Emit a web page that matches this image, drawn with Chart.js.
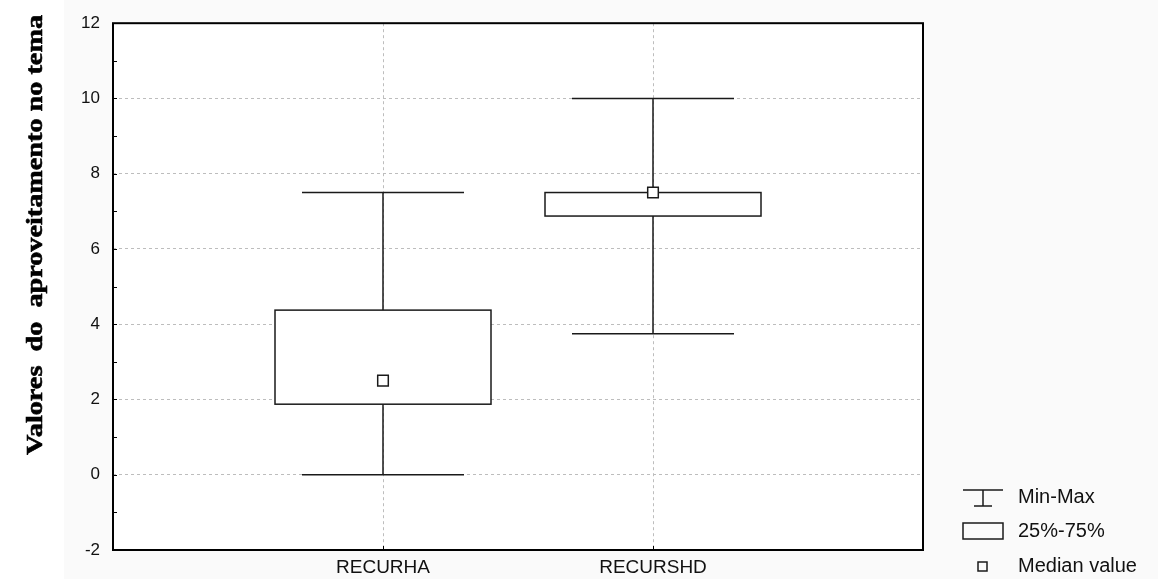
<!DOCTYPE html>
<html>
<head>
<meta charset="utf-8">
<script src="https://cdn.jsdelivr.net/npm/chart.js@4.4.1/dist/chart.umd.min.js"></script>
<style>
  html, body { margin: 0; padding: 0; background: #fff; }
  #wrap { width: 1158px; height: 579px; }
</style>
</head>
<body>
<div id="wrap"><canvas id="myChart" width="1158" height="579"></canvas></div>
<script>
var categories = ['RECURHA', 'RECURSHD'];
var minVals = [0, 3.75];
var q1Vals = [1.875, 6.875];
var medianVals = [2.5, 7.5];
var q3Vals = [4.375, 7.5];
var maxVals = [7.5, 10];
var yTicks = [-2, 0, 2, 4, 6, 8, 10, 12];
var legendLabels = ['Min-Max', '25%-75%', 'Median value'];
var yTitle = 'Valores  do  aproveitamento no tema';

var boxHalf = 0.4;
var capHalf = 0.3;
var ink = '#1a1a1a';
var sans = '"Liberation Sans", Arial, sans-serif';

var medianPoints = categories.map(function (c, i) { return { x: i + 1, y: medianVals[i] }; });

// boxes, whiskers, frame, minor ticks, title and legend
var boxPlugin = {
  id: 'boxes',
  beforeDraw: function (chart) {
    var ctx = chart.ctx, a = chart.chartArea;
    ctx.save();
    ctx.fillStyle = '#ffffff';
    ctx.fillRect(0, 0, chart.width, chart.height);
    ctx.fillStyle = '#fafafa';
    ctx.fillRect(64, 0, chart.width - 64, chart.height);
    ctx.fillStyle = '#ffffff';
    ctx.fillRect(a.left, a.top, a.right - a.left, a.bottom - a.top);
    ctx.restore();
  },
  beforeDatasetsDraw: function (chart) {
    var ctx = chart.ctx, xs = chart.scales.x, ys = chart.scales.y;
    ctx.save();
    ctx.strokeStyle = ink;
    ctx.lineWidth = 1.5;
    categories.forEach(function (c, i) {
      var cx = xs.getPixelForValue(i + 1);
      var yMin = ys.getPixelForValue(minVals[i]);
      var yMax = ys.getPixelForValue(maxVals[i]);
      var yQ1 = ys.getPixelForValue(q1Vals[i]);
      var yQ3 = ys.getPixelForValue(q3Vals[i]);
      var capL = xs.getPixelForValue(i + 1 - capHalf);
      var capR = xs.getPixelForValue(i + 1 + capHalf);
      var bL = xs.getPixelForValue(i + 1 - boxHalf);
      var bR = xs.getPixelForValue(i + 1 + boxHalf);
      ctx.beginPath();
      ctx.moveTo(cx, yMin); ctx.lineTo(cx, yMax);
      ctx.moveTo(capL, yMin); ctx.lineTo(capR, yMin);
      ctx.moveTo(capL, yMax); ctx.lineTo(capR, yMax);
      ctx.stroke();
      ctx.fillStyle = '#ffffff';
      ctx.fillRect(bL, yQ3, bR - bL, yQ1 - yQ3);
      ctx.strokeRect(bL, yQ3, bR - bL, yQ1 - yQ3);
    });
    ctx.restore();
  },
  afterDraw: function (chart) {
    var ctx = chart.ctx, a = chart.chartArea, xs = chart.scales.x, ys = chart.scales.y;
    ctx.save();
    ctx.strokeStyle = '#000';
    ctx.lineWidth = 1;
    ctx.beginPath();
    for (var v = -1; v < 12; v++) {
      var py = Math.round(ys.getPixelForValue(v)) + 0.5;
      ctx.moveTo(a.left, py); ctx.lineTo(a.left + 4, py);
    }
    categories.forEach(function (c, i) {
      var px = Math.round(xs.getPixelForValue(i + 1)) + 0.5;
      ctx.moveTo(px, a.bottom); ctx.lineTo(px, a.bottom - 4);
    });
    ctx.stroke();
    ctx.lineWidth = 2;
    ctx.strokeRect(a.left, a.top, a.right - a.left, a.bottom - a.top);

    // y title, bold serif stretched along its length
    ctx.save();
    ctx.font = 'bold 24px "Liberation Serif", "Times New Roman", serif';
    var w = ctx.measureText(yTitle).width;
    ctx.translate(42, 455);
    ctx.rotate(-Math.PI / 2);
    ctx.scale(440 / w, 1);
    ctx.fillStyle = '#000';
    ctx.strokeStyle = '#000';
    ctx.lineWidth = 0.6;
    ctx.textAlign = 'left';
    ctx.textBaseline = 'alphabetic';
    ctx.fillText(yTitle, 0, 0);
    ctx.strokeText(yTitle, 0, 0);
    ctx.restore();

    // legend
    var lx = 963, tx = 1018;
    var rows = [497, 531, 566];
    ctx.strokeStyle = ink;
    ctx.lineWidth = 1.5;
    ctx.beginPath();
    ctx.moveTo(lx, 490); ctx.lineTo(lx + 40, 490);
    ctx.moveTo(lx + 20, 490); ctx.lineTo(lx + 20, 506);
    ctx.moveTo(lx + 11, 506); ctx.lineTo(lx + 29, 506);
    ctx.stroke();
    ctx.strokeRect(lx, 523, 40, 16);
    ctx.strokeRect(lx + 15, 562, 9, 9);
    ctx.fillStyle = '#111';
    ctx.font = '20px ' + sans;
    ctx.textBaseline = 'middle';
    ctx.textAlign = 'left';
    legendLabels.forEach(function (t, i) { ctx.fillText(t, tx, rows[i]); });
    ctx.restore();
  }
};

var ctx = document.getElementById('myChart');
var myChart = new Chart(ctx, {
  type: 'scatter',
  data: {
    datasets: [{
      label: 'Median value',
      data: medianPoints,
      pointStyle: 'rect',
      pointRadius: 7.5,
      pointHoverRadius: 7.5,
      backgroundColor: '#ffffff',
      borderColor: ink,
      borderWidth: 1.5
    }]
  },
  plugins: [boxPlugin],
  options: {
    responsive: false,
    animation: false,
    events: [],
    layout: { padding: { left: 0, top: 23, right: 235, bottom: 0 } },
    plugins: { legend: { display: false }, tooltip: { enabled: false } },
    scales: {
      x: {
        type: 'linear',
        min: 0, max: 3,
        afterFit: function (s) { s.height = 29; },
        afterBuildTicks: function (s) { s.ticks = [0, 1, 2, 3].map(function (v) { return { value: v }; }); },
        ticks: {
          padding: 6,
          color: '#111',
          font: { family: sans, size: 19 },
          callback: function (v) { return categories[v - 1] || ''; }
        },
        grid: {
          drawTicks: false,
          color: function (c) { return (c.tick.value === 1 || c.tick.value === 2) ? '#bdbdbd' : 'rgba(0,0,0,0)'; }
        },
        border: { display: false, dash: [3, 3] }
      },
      y: {
        min: -2, max: 12,
        afterFit: function (s) { s.width = 113; },
        afterBuildTicks: function (s) { s.ticks = yTicks.map(function (v) { return { value: v }; }); },
        ticks: {
          padding: 13,
          color: '#111',
          font: { family: sans, size: 17 }
        },
        grid: {
          drawTicks: false,
          color: function (c) { return (c.tick.value === -2 || c.tick.value === 12) ? 'rgba(0,0,0,0)' : '#bdbdbd'; }
        },
        border: { display: false, dash: [3, 3] }
      }
    }
  }
});
</script>
</body>
</html>
